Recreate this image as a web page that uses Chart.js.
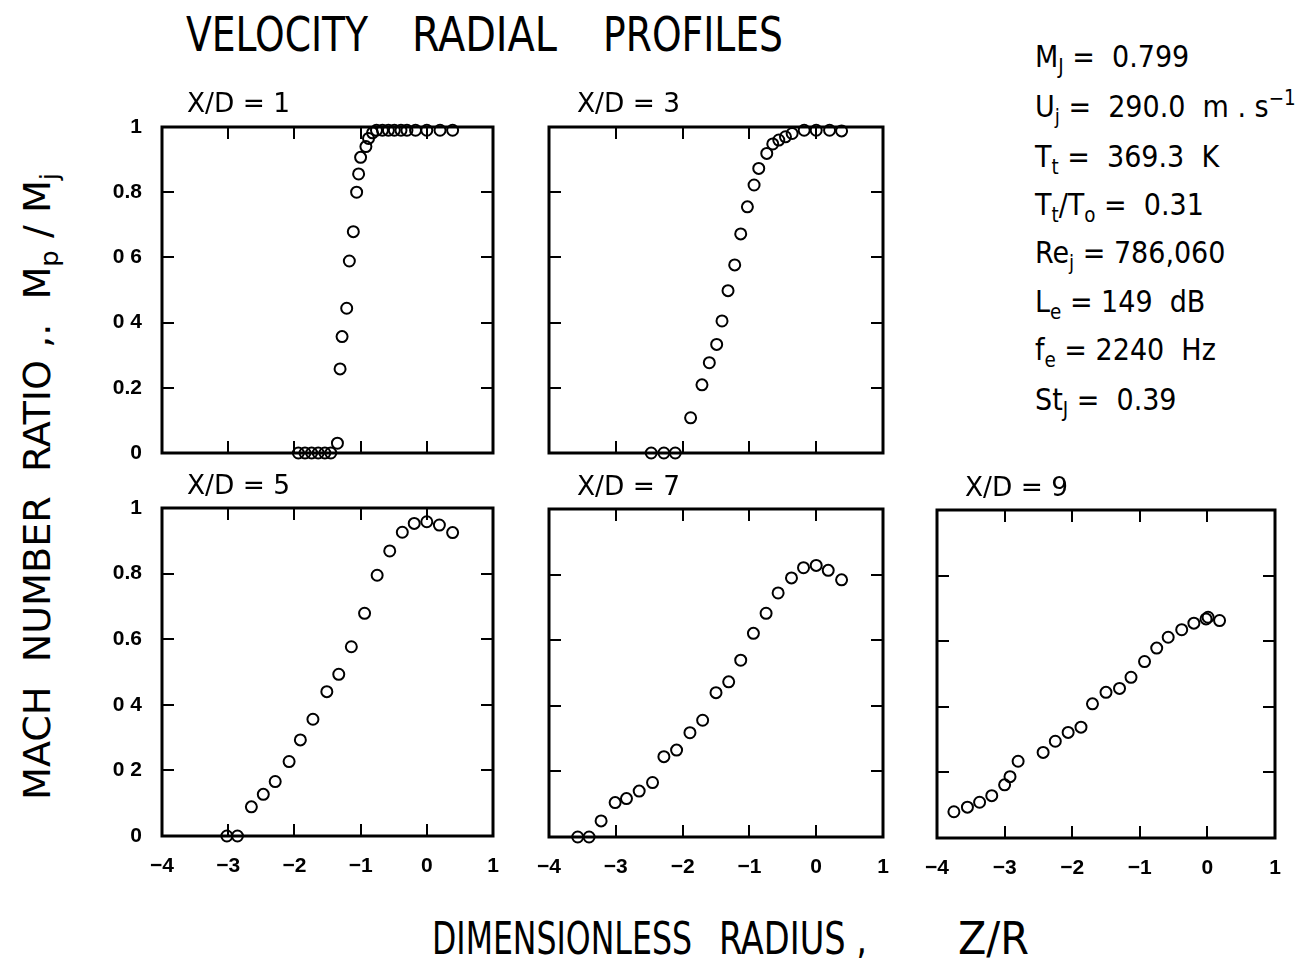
<!DOCTYPE html>
<html>
<head>
<meta charset="utf-8">
<script src="https://cdn.jsdelivr.net/npm/chart.js@4.4.1/dist/chart.umd.min.js"></script>
<style>
  html, body { margin: 0; padding: 0; background: #fff; }
  body { width: 1309px; height: 958px; position: relative; overflow: hidden;
         font-family: "DejaVu Sans Condensed", "DejaVu Sans", sans-serif; color: #000; }
  .panel { position: absolute; }
  .t { position: absolute; white-space: pre; line-height: 1; transform-origin: 0 50%; }
  .t sub { font-size: 0.68em; vertical-align: -0.32em; line-height: 0; }
  .t sup { font-size: 0.68em; vertical-align: 0.6em; line-height: 0; }
</style>
</head>
<body>

<script>
// ---- data ----
const panelTitles = ['X/D = 1', 'X/D = 3', 'X/D = 5', 'X/D = 7', 'X/D = 9'];

const xTickValues = [-4, -3, -2, -1, 0, 1];
const xTickLabels = ['\u22124', '\u22123', '\u22122', '\u22121', '0', '1'];
const yTickValues = [0, 0.2, 0.4, 0.6, 0.8, 1];
const yTickLabelsTop = ['0', '0.2', '0 4', '0 6', '0.8', '1'];
const yTickLabelsBottom = ['0', '0 2', '0 4', '0.6', '0.8', '1'];

// X/D = 1
const zr1 = [-1.94, -1.84, -1.74, -1.64, -1.54, -1.45, -1.35, -1.31, -1.28, -1.21, -1.17, -1.11,
             -1.06, -1.03, -1.00, -0.92, -0.88, -0.82, -0.76, -0.67, -0.58, -0.49, -0.39, -0.30,
             -0.17, 0.00, 0.20, 0.39];
const mr1 = [0, 0, 0, 0, 0, 0, 0.03, 0.258, 0.357, 0.444, 0.589, 0.679,
             0.80, 0.856, 0.907, 0.94, 0.965, 0.982, 0.99, 0.99, 0.99, 0.99, 0.99, 0.99,
             0.99, 0.99, 0.99, 0.99];

// X/D = 3
const zr3 = [-2.47, -2.28, -2.11, -1.88, -1.71, -1.60, -1.49, -1.41, -1.32, -1.22, -1.13, -1.03,
             -0.93, -0.86, -0.74, -0.65, -0.56, -0.46, -0.36, -0.18, 0.00, 0.20, 0.38];
const mr3 = [0, 0, 0, 0.108, 0.209, 0.277, 0.333, 0.405, 0.498, 0.577, 0.672, 0.755,
             0.822, 0.873, 0.919, 0.948, 0.96, 0.97, 0.98, 0.99, 0.99, 0.99, 0.988];

// X/D = 5
const zr5 = [-3.02, -2.86, -2.65, -2.47, -2.29, -2.08, -1.91, -1.72, -1.51, -1.33, -1.14, -0.94,
             -0.75, -0.56, -0.37, -0.19, 0.00, 0.19, 0.39];
const mr5 = [0, 0, 0.089, 0.127, 0.166, 0.227, 0.293, 0.356, 0.44, 0.493, 0.577, 0.679,
             0.795, 0.869, 0.926, 0.953, 0.958, 0.948, 0.925];

// X/D = 7
const zr7 = [-3.57, -3.40, -3.22, -3.01, -2.84, -2.65, -2.45, -2.28, -2.09, -1.89, -1.70, -1.50,
             -1.31, -1.13, -0.94, -0.75, -0.57, -0.37, -0.19, 0.00, 0.18, 0.38];
const mr7 = [0, 0, 0.049, 0.105, 0.117, 0.14, 0.166, 0.245, 0.265, 0.318, 0.356, 0.44,
             0.473, 0.539, 0.621, 0.682, 0.744, 0.79, 0.821, 0.828, 0.813, 0.784];

// X/D = 9
const zr9 = [-3.75, -3.55, -3.37, -3.19, -3.00, -2.92, -2.80, -2.43, -2.25, -2.06, -1.87, -1.70,
             -1.50, -1.30, -1.13, -0.93, -0.75, -0.58, -0.38, -0.20, -0.02, 0.01, 0.18];
const mr9 = [0.080, 0.094, 0.109, 0.129, 0.162, 0.187, 0.234, 0.261, 0.295, 0.322, 0.338, 0.409,
             0.444, 0.456, 0.49, 0.538, 0.579, 0.612, 0.635, 0.655, 0.668, 0.673, 0.663];

const flowLabels = [
  'M<sub>J</sub> =  0.799',
  'U<sub>j</sub> =  290.0  m . s<sup>\u22121</sup>',
  'T<sub>t</sub> =  369.3  K',
  'T<sub>t</sub>/T<sub>o</sub> =  0.31',
  'Re<sub>j</sub> = 786,060',
  'L<sub>e</sub> = 149  dB',
  'f<sub>e</sub> = 2240  Hz',
  'St<sub>J</sub> =  0.39'
];

// ---- layout ----
const boxes = [
  { l: 162, t: 127, r: 493, b: 453 },
  { l: 549, t: 127, r: 883, b: 453 },
  { l: 162, t: 508, r: 493, b: 836 },
  { l: 549, t: 509, r: 883, b: 837 },
  { l: 937, t: 510, r: 1275, b: 838 }
];
const titlePos = [[187, 89], [577, 89], [187, 471], [577, 472], [965, 473]];

const tickFont = { family: '"Liberation Sans", Arial, sans-serif', size: 21, weight: 'bold' };

// frame + inward tick marks on all four sides
const framePlugin = {
  id: 'frame',
  beforeDatasetsDraw(chart) {
    const { ctx, chartArea: a, scales: { x, y } } = chart;
    ctx.save();
    ctx.strokeStyle = '#000';
    ctx.lineWidth = 3;
    ctx.strokeRect(a.left, a.top, a.right - a.left, a.bottom - a.top);
    ctx.lineWidth = 2;
    ctx.beginPath();
    xTickValues.slice(1, -1).forEach(v => {
      const px = Math.round(x.getPixelForValue(v));
      ctx.moveTo(px, a.bottom); ctx.lineTo(px, a.bottom - 12);
      ctx.moveTo(px, a.top); ctx.lineTo(px, a.top + 12);
    });
    yTickValues.slice(1, -1).forEach(v => {
      const py = Math.round(y.getPixelForValue(v));
      ctx.moveTo(a.left, py); ctx.lineTo(a.left + 12, py);
      ctx.moveTo(a.right, py); ctx.lineTo(a.right - 12, py);
    });
    ctx.stroke();
    ctx.restore();
  }
};

// keep the plot box where it is, whatever the tick labels overhang
function noScalePadding(s) {
  s.paddingLeft = 0; s.paddingRight = 0; s.paddingTop = 0; s.paddingBottom = 0;
}

function makePanel(i, xs, ys, showX, yLabels) {
  const box = boxes[i];
  const padL = 70, padB = 50, padT = 14, padR = 14;
  const w = box.r - box.l + padL + padR;
  const h = box.b - box.t + padT + padB;

  const wrap = document.createElement('div');
  wrap.className = 'panel';
  wrap.style.left = (box.l - padL) + 'px';
  wrap.style.top = (box.t - padT) + 'px';
  wrap.style.width = w + 'px';
  wrap.style.height = h + 'px';
  const canvas = document.createElement('canvas');
  canvas.width = w; canvas.height = h;
  canvas.style.width = w + 'px'; canvas.style.height = h + 'px';
  wrap.appendChild(canvas);
  document.body.appendChild(wrap);

  new Chart(canvas, {
    type: 'scatter',
    data: {
      datasets: [{
        data: xs.map((x, k) => ({ x, y: ys[k] })),
        pointStyle: 'circle',
        pointRadius: 5.5,
        borderWidth: 2,
        borderColor: '#000',
        backgroundColor: 'rgba(0,0,0,0)',
        clip: false
      }]
    },
    options: {
      responsive: false,
      animation: false,
      events: [],
      layout: { padding: { top: padT, right: padR, left: 0, bottom: 0 } },
      plugins: { legend: { display: false }, tooltip: { enabled: false } },
      scales: {
        x: {
          type: 'linear', min: -4, max: 1,
          afterBuildTicks: s => { s.ticks = xTickValues.map(v => ({ value: v })); },
          afterFit: s => { s.height = padB; noScalePadding(s); },
          grid: { display: false, drawTicks: false },
          border: { display: false },
          ticks: {
            display: showX, padding: 18, color: '#000', font: tickFont,
            maxRotation: 0, autoSkip: false,
            callback: (v, k) => xTickLabels[k]
          }
        },
        y: {
          type: 'linear', min: 0, max: 1,
          afterBuildTicks: s => { s.ticks = yTickValues.map(v => ({ value: v })); },
          afterFit: s => { s.width = padL; noScalePadding(s); },
          grid: { display: false, drawTicks: false },
          border: { display: false },
          ticks: {
            display: !!yLabels, padding: 20, color: '#000', font: tickFont,
            autoSkip: false,
            callback: (v, k) => yLabels ? yLabels[k] : ''
          }
        }
      }
    },
    plugins: [framePlugin]
  });
}

makePanel(0, zr1, mr1, false, yTickLabelsTop);
makePanel(1, zr3, mr3, false, null);
makePanel(2, zr5, mr5, true, yTickLabelsBottom);
makePanel(3, zr7, mr7, true, null);
makePanel(4, zr9, mr9, true, null);

// ---- text ----
function addText(html, left, top, size, targetWidth) {
  const el = document.createElement('div');
  el.className = 't';
  el.innerHTML = html;
  el.style.left = left + 'px';
  el.style.top = top + 'px';
  el.style.fontSize = size + 'px';
  document.body.appendChild(el);
  if (targetWidth) {
    const w = el.getBoundingClientRect().width;
    el.style.transform = `scaleX(${targetWidth / w})`;
  }
  return el;
}

// main title
addText('VELOCITY', 186, 10, 48, 182);
addText('RADIAL', 412, 10, 48, 145);
addText('PROFILES', 603, 10, 48, 180);

// panel titles
panelTitles.forEach((s, i) => addText(s, titlePos[i][0], titlePos[i][1], 27, 103));

// flow conditions
const rowTops = [42, 92, 142, 190, 238, 287, 335, 385];
flowLabels.forEach((s, i) => addText(s, 1035, rowTops[i], 30));

// x axis title
addText('DIMENSIONLESS', 432, 916, 45, 260);
addText('RADIUS ,', 719, 916, 45, 148);
addText('Z/R', 958, 916, 45, 71);

// y axis title, rotated
(function () {
  const el = document.createElement('div');
  el.className = 't';
  el.innerHTML = 'MACH  NUMBER  RATIO ,.  M<sub>p</sub> / M<sub>j</sub>';
  el.style.fontSize = '37px';
  document.body.appendChild(el);
  const r = el.getBoundingClientRect();
  const cx = 38, cy = 486, len = 627;
  el.style.left = (cx - r.width / 2) + 'px';
  el.style.top = (cy - r.height / 2) + 'px';
  el.style.transformOrigin = '50% 50%';
  el.style.transform = `rotate(-90deg) scaleX(${len / r.width})`;
})();
</script>
</body>
</html>
